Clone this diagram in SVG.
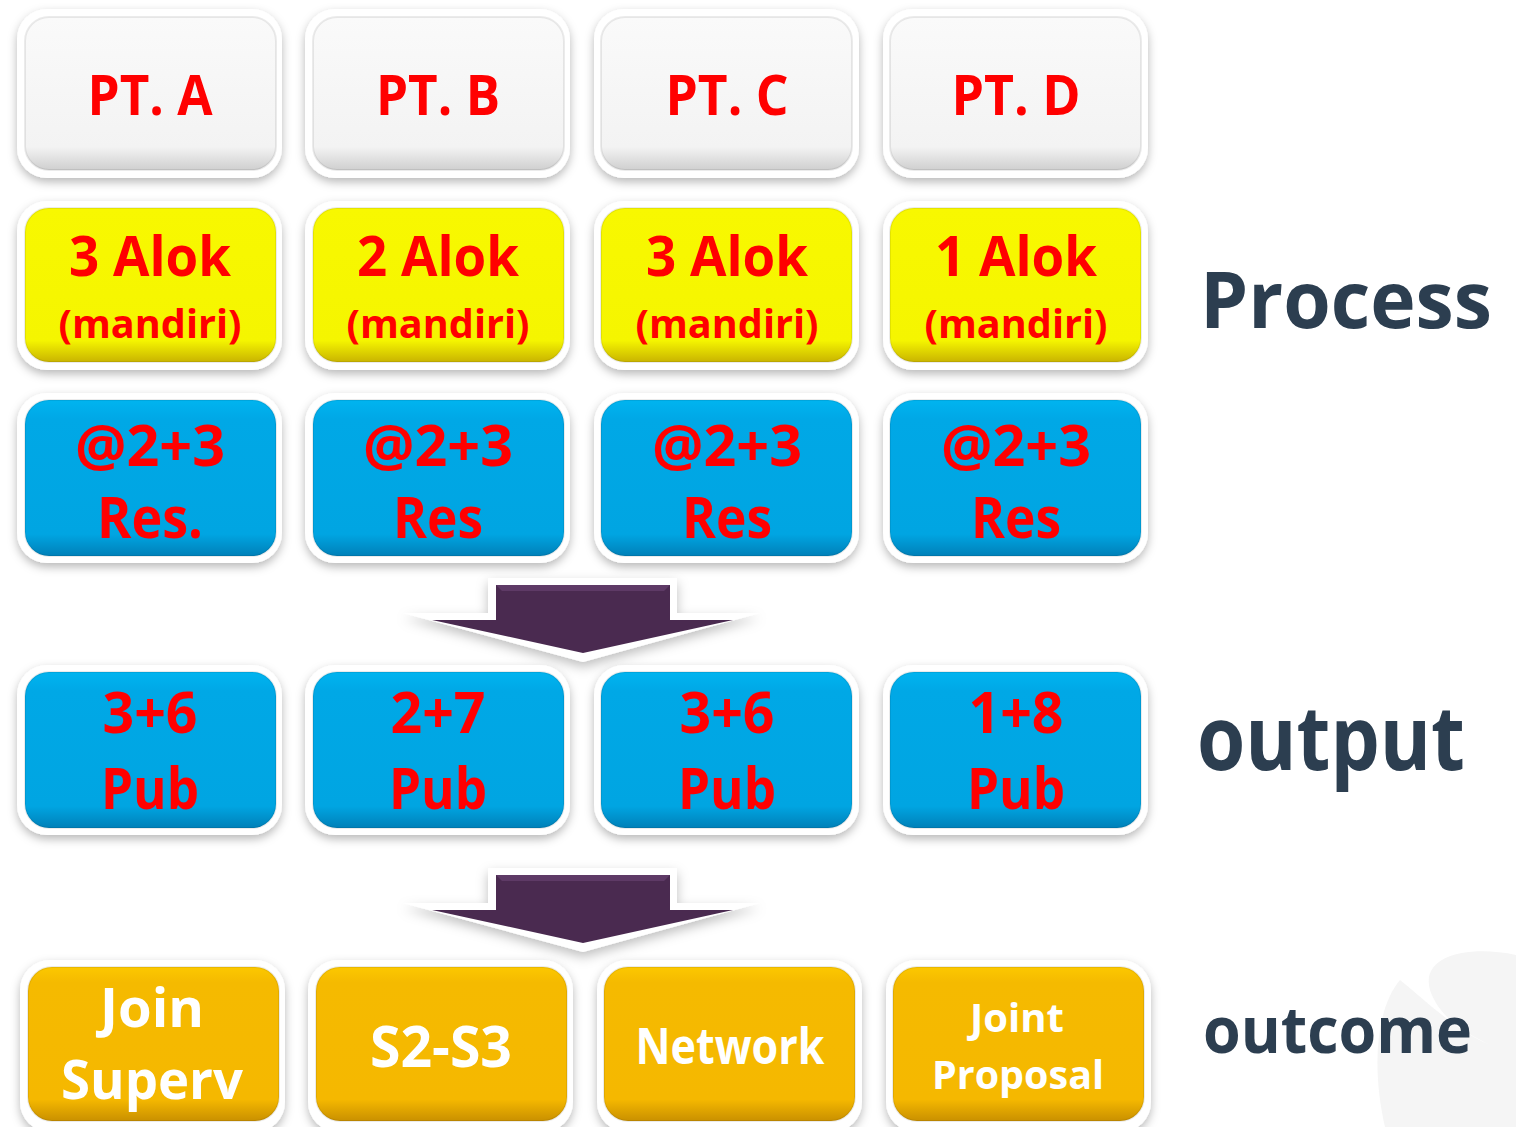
<svg xmlns="http://www.w3.org/2000/svg" width="1516" height="1127" viewBox="0 0 1516 1127">
<defs>
  <filter id="sh" x="-20%" y="-20%" width="140%" height="150%">
    <feDropShadow dx="0" dy="4" stdDeviation="5" flood-color="#000" flood-opacity="0.28"/>
  </filter>
  <filter id="ash" x="-20%" y="-40%" width="140%" height="180%">
    <feDropShadow dx="0" dy="5" stdDeviation="6" flood-color="#000" flood-opacity="0.25"/>
  </filter>
  <linearGradient id="gGray" x1="0" y1="0" x2="0" y2="1">
    <stop offset="0" stop-color="#fafafa"/><stop offset="0.85" stop-color="#f3f3f3"/><stop offset="1" stop-color="#cfcfcf"/>
  </linearGradient>
  <linearGradient id="gYel" x1="0" y1="0" x2="0" y2="1">
    <stop offset="0" stop-color="#f8f800"/><stop offset="0.86" stop-color="#f5f500"/><stop offset="1" stop-color="#c9b400"/>
  </linearGradient>
  <linearGradient id="gBlue" x1="0" y1="0" x2="0" y2="1">
    <stop offset="0" stop-color="#00b4f0"/><stop offset="0.12" stop-color="#00a8e6"/><stop offset="0.86" stop-color="#00a5e2"/><stop offset="1" stop-color="#0080b8"/>
  </linearGradient>
  <linearGradient id="gOr" x1="0" y1="0" x2="0" y2="1">
    <stop offset="0" stop-color="#fcc800"/><stop offset="0.1" stop-color="#f5ba00"/><stop offset="0.86" stop-color="#f5b800"/><stop offset="1" stop-color="#c99000"/>
  </linearGradient>
  <style>
    .frame{fill:#fff;filter:url(#sh)}
    .gray{fill:url(#gGray)}
    .yel{fill:url(#gYel)}
    .blue{fill:url(#gBlue)}
    .or{fill:url(#gOr)}
    .edge{fill:none;stroke:#000;stroke-opacity:0.08;stroke-width:2}
    .t{font-family:"Open Sans","Noto Sans","Liberation Sans",sans-serif;font-weight:700;text-anchor:middle}
    .red{fill:#ff0000}
    .wh{fill:#ffffff}
    .lab{font-family:"Open Sans","Noto Sans","Liberation Sans",sans-serif;font-weight:700;fill:#2c3e50}
    .arrowOut{fill:#fff;filter:url(#ash)}
    .arrow{fill:#4a2a50}
  </style>
</defs>
<rect width="1516" height="1127" fill="#ffffff"/>
<path d="M1516 955 C1470 945 1420 955 1430 990 C1440 1020 1470 1035 1490 1045 C1455 1030 1425 1000 1400 980 C1375 1010 1372 1070 1385 1127 L1516 1127 Z" fill="#f5f5f5"/>

<!-- Row 1 -->
<g id="ptA"><rect class="frame" x="17" y="9" width="265" height="169" rx="30"/><rect class="gray" x="25" y="17" width="251" height="153" rx="24"/><rect class="edge" x="25" y="17" width="251" height="153" rx="24"/><text class="t red" x="150" y="115" font-size="56" textLength="125" lengthAdjust="spacingAndGlyphs">PT. A</text></g>
<g id="ptB"><rect class="frame" x="305" y="9" width="265" height="169" rx="30"/><rect class="gray" x="313" y="17" width="251" height="153" rx="24"/><rect class="edge" x="313" y="17" width="251" height="153" rx="24"/><text class="t red" x="438" y="115" font-size="56" textLength="124" lengthAdjust="spacingAndGlyphs">PT. B</text></g>
<g id="ptC"><rect class="frame" x="594" y="9" width="265" height="169" rx="30"/><rect class="gray" x="601" y="17" width="251" height="153" rx="24"/><rect class="edge" x="601" y="17" width="251" height="153" rx="24"/><text class="t red" x="727" y="115" font-size="56" textLength="123" lengthAdjust="spacingAndGlyphs">PT. C</text></g>
<g id="ptD"><rect class="frame" x="883" y="9" width="265" height="169" rx="30"/><rect class="gray" x="890" y="17" width="251" height="153" rx="24"/><rect class="edge" x="890" y="17" width="251" height="153" rx="24"/><text class="t red" x="1016" y="115" font-size="56" textLength="129" lengthAdjust="spacingAndGlyphs">PT. D</text></g>

<!-- Row 2 -->
<g id="alokA"><rect class="frame" x="17" y="201" width="265" height="169" rx="30"/><rect class="yel" x="25" y="208" width="251" height="154" rx="24"/><rect class="edge" x="25" y="208" width="251" height="154" rx="24"/><text class="t red" x="150" y="276" font-size="56" textLength="162" lengthAdjust="spacingAndGlyphs">3 Alok</text><text class="t red" x="150" y="338" font-size="39" textLength="183" lengthAdjust="spacingAndGlyphs">(mandiri)</text></g>
<g id="alokB"><rect class="frame" x="305" y="201" width="265" height="169" rx="30"/><rect class="yel" x="313" y="208" width="251" height="154" rx="24"/><rect class="edge" x="313" y="208" width="251" height="154" rx="24"/><text class="t red" x="438" y="276" font-size="56" textLength="162" lengthAdjust="spacingAndGlyphs">2 Alok</text><text class="t red" x="438" y="338" font-size="39" textLength="183" lengthAdjust="spacingAndGlyphs">(mandiri)</text></g>
<g id="alokC"><rect class="frame" x="594" y="201" width="265" height="169" rx="30"/><rect class="yel" x="601" y="208" width="251" height="154" rx="24"/><rect class="edge" x="601" y="208" width="251" height="154" rx="24"/><text class="t red" x="727" y="276" font-size="56" textLength="162" lengthAdjust="spacingAndGlyphs">3 Alok</text><text class="t red" x="727" y="338" font-size="39" textLength="183" lengthAdjust="spacingAndGlyphs">(mandiri)</text></g>
<g id="alokD"><rect class="frame" x="883" y="201" width="265" height="169" rx="30"/><rect class="yel" x="890" y="208" width="251" height="154" rx="24"/><rect class="edge" x="890" y="208" width="251" height="154" rx="24"/><text class="t red" x="1016" y="276" font-size="56" textLength="162" lengthAdjust="spacingAndGlyphs">1 Alok</text><text class="t red" x="1016" y="338" font-size="39" textLength="183" lengthAdjust="spacingAndGlyphs">(mandiri)</text></g>

<!-- Row 3 -->
<g id="resA"><rect class="frame" x="17" y="393" width="265" height="170" rx="30"/><rect class="blue" x="25" y="400" width="251" height="156" rx="24"/><rect class="edge" x="25" y="400" width="251" height="156" rx="24"/><text class="t red" x="150" y="466" font-size="57" textLength="150" lengthAdjust="spacingAndGlyphs">@2+3</text><text class="t red" x="150" y="538" font-size="57" textLength="106" lengthAdjust="spacingAndGlyphs">Res.</text></g>
<g id="resB"><rect class="frame" x="305" y="393" width="265" height="170" rx="30"/><rect class="blue" x="313" y="400" width="251" height="156" rx="24"/><rect class="edge" x="313" y="400" width="251" height="156" rx="24"/><text class="t red" x="438" y="466" font-size="57" textLength="150" lengthAdjust="spacingAndGlyphs">@2+3</text><text class="t red" x="438" y="538" font-size="57" textLength="90" lengthAdjust="spacingAndGlyphs">Res</text></g>
<g id="resC"><rect class="frame" x="594" y="393" width="265" height="170" rx="30"/><rect class="blue" x="601" y="400" width="251" height="156" rx="24"/><rect class="edge" x="601" y="400" width="251" height="156" rx="24"/><text class="t red" x="727" y="466" font-size="57" textLength="150" lengthAdjust="spacingAndGlyphs">@2+3</text><text class="t red" x="727" y="538" font-size="57" textLength="90" lengthAdjust="spacingAndGlyphs">Res</text></g>
<g id="resD"><rect class="frame" x="883" y="393" width="265" height="170" rx="30"/><rect class="blue" x="890" y="400" width="251" height="156" rx="24"/><rect class="edge" x="890" y="400" width="251" height="156" rx="24"/><text class="t red" x="1016" y="466" font-size="57" textLength="150" lengthAdjust="spacingAndGlyphs">@2+3</text><text class="t red" x="1016" y="538" font-size="57" textLength="90" lengthAdjust="spacingAndGlyphs">Res</text></g>

<!-- Connectors (block arrows) -->
<g id="connectors">
  <g id="arrow1">
    <polygon class="arrowOut" points="488,578 677,578 677,613 760,613 583,662 403,613 488,613"/>
    <polygon class="arrow" points="496,585 670,585 670,620 733,620 583,653 432,620 496,620"/>
    <polygon points="496,585 670,585 664,591 502,591" fill="#5e3a66"/>
  </g>
  <g id="arrow2">
    <polygon class="arrowOut" points="488,868 677,868 677,903 760,903 583,952 403,903 488,903"/>
    <polygon class="arrow" points="496,875 670,875 670,910 733,910 583,943 432,910 496,910"/>
    <polygon points="496,875 670,875 664,881 502,881" fill="#5e3a66"/>
  </g>
</g>

<!-- Row 4 -->
<g id="pubA"><rect class="frame" x="17" y="665" width="265" height="170" rx="30"/><rect class="blue" x="25" y="672" width="251" height="156" rx="24"/><rect class="edge" x="25" y="672" width="251" height="156" rx="24"/><text class="t red" x="150" y="733" font-size="57" textLength="95" lengthAdjust="spacingAndGlyphs">3+6</text><text class="t red" x="150" y="809" font-size="57" textLength="98" lengthAdjust="spacingAndGlyphs">Pub</text></g>
<g id="pubB"><rect class="frame" x="305" y="665" width="265" height="170" rx="30"/><rect class="blue" x="313" y="672" width="251" height="156" rx="24"/><rect class="edge" x="313" y="672" width="251" height="156" rx="24"/><text class="t red" x="438" y="733" font-size="57" textLength="95" lengthAdjust="spacingAndGlyphs">2+7</text><text class="t red" x="438" y="809" font-size="57" textLength="98" lengthAdjust="spacingAndGlyphs">Pub</text></g>
<g id="pubC"><rect class="frame" x="594" y="665" width="265" height="170" rx="30"/><rect class="blue" x="601" y="672" width="251" height="156" rx="24"/><rect class="edge" x="601" y="672" width="251" height="156" rx="24"/><text class="t red" x="727" y="733" font-size="57" textLength="95" lengthAdjust="spacingAndGlyphs">3+6</text><text class="t red" x="727" y="809" font-size="57" textLength="98" lengthAdjust="spacingAndGlyphs">Pub</text></g>
<g id="pubD"><rect class="frame" x="883" y="665" width="265" height="170" rx="30"/><rect class="blue" x="890" y="672" width="251" height="156" rx="24"/><rect class="edge" x="890" y="672" width="251" height="156" rx="24"/><text class="t red" x="1016" y="733" font-size="57" textLength="95" lengthAdjust="spacingAndGlyphs">1+8</text><text class="t red" x="1016" y="809" font-size="57" textLength="98" lengthAdjust="spacingAndGlyphs">Pub</text></g>

<!-- Row 5 -->
<g id="outJoin"><rect class="frame" x="20" y="960" width="265" height="172" rx="30"/><rect class="or" x="28" y="967" width="251" height="154" rx="24"/><rect class="edge" x="28" y="967" width="251" height="154" rx="24"/><text class="t wh" x="152" y="1027" font-size="54" textLength="104" lengthAdjust="spacingAndGlyphs">Join</text><text class="t wh" x="152" y="1099" font-size="54" textLength="182" lengthAdjust="spacingAndGlyphs">Superv</text></g>
<g id="outS2S3"><rect class="frame" x="308" y="960" width="265" height="172" rx="30"/><rect class="or" x="316" y="967" width="251" height="154" rx="24"/><rect class="edge" x="316" y="967" width="251" height="154" rx="24"/><text class="t wh" x="441" y="1067" font-size="58" textLength="142" lengthAdjust="spacingAndGlyphs">S2-S3</text></g>
<g id="outNetwork"><rect class="frame" x="597" y="960" width="265" height="172" rx="30"/><rect class="or" x="604" y="967" width="251" height="154" rx="24"/><rect class="edge" x="604" y="967" width="251" height="154" rx="24"/><text class="t wh" x="730" y="1064" font-size="50" textLength="189" lengthAdjust="spacingAndGlyphs">Network</text></g>
<g id="outJoint"><rect class="frame" x="886" y="960" width="265" height="172" rx="30"/><rect class="or" x="893" y="967" width="251" height="154" rx="24"/><rect class="edge" x="893" y="967" width="251" height="154" rx="24"/><text class="t wh" x="1017" y="1032" font-size="40" textLength="94" lengthAdjust="spacingAndGlyphs">Joint</text><text class="t wh" x="1018" y="1089" font-size="40" textLength="172" lengthAdjust="spacingAndGlyphs">Proposal</text></g>

<!-- Labels -->
<text class="lab" x="1200" y="328" font-size="78" textLength="292" lengthAdjust="spacingAndGlyphs">Process</text>
<text class="lab" x="1197" y="770" font-size="90" textLength="268" lengthAdjust="spacingAndGlyphs">output</text>
<text class="lab" x="1203" y="1053" font-size="65" textLength="269" lengthAdjust="spacingAndGlyphs">outcome</text>
</svg>
